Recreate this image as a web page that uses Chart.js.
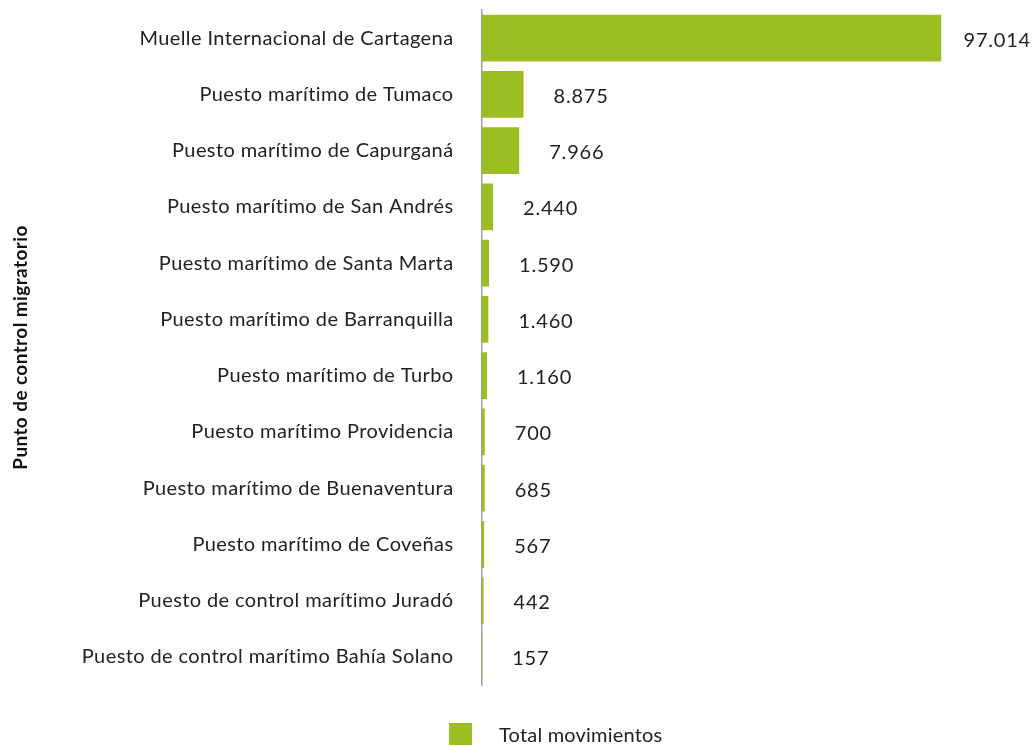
<!DOCTYPE html>
<html>
<head>
<meta charset="utf-8">
<script src="https://cdn.jsdelivr.net/npm/chart.js@4.4.0/dist/chart.umd.min.js"></script>
<style>
  body { margin: 0; background: #fff; }
  .wrap { position: relative; width: 1034px; height: 746px; }
  .legend { position: absolute; left: 449px; top: 722px; display: flex; align-items: center;
    font-family: Lato, sans-serif; font-size: 20px; letter-spacing: 0.2px; color: #222; }
  .legend span.box { display: inline-block; width: 23px; height: 22px; background: #9BBE22; margin-right: 27px; }
</style>
</head>
<body>
<div class="wrap">
  <canvas id="myChart" width="1034" height="746"></canvas>
  <div class="legend"><span class="box"></span><span>Total movimientos</span></div>
</div>
<script>
const categories = [
  'Muelle Internacional de Cartagena',
  'Puesto marítimo de Tumaco',
  'Puesto marítimo de Capurganá',
  'Puesto marítimo de San Andrés',
  'Puesto marítimo de Santa Marta',
  'Puesto marítimo de Barranquilla',
  'Puesto marítimo de Turbo',
  'Puesto marítimo Providencia',
  'Puesto marítimo de Buenaventura',
  'Puesto marítimo de Coveñas',
  'Puesto de control marítimo Juradó',
  'Puesto de control marítimo Bahía Solano'
];
const totalMovimientos = [97014, 8875, 7966, 2440, 1590, 1460, 1160, 700, 685, 567, 442, 157];

const fmt = (v) => String(v).replace(/\B(?=(\d{3})+(?!\d))/g, '.');

// the reference font is wider than Lato, so open it up a bit
const spacing = {
  id: 'spacing',
  beforeLayout(chart) { chart.ctx.letterSpacing = '0.4px'; },
  beforeDraw(chart) { chart.ctx.letterSpacing = '0.4px'; }
};

// value labels to the right of each bar
const valueLabels = {
  id: 'valueLabels',
  afterDatasetsDraw(chart) {
    const ctx = chart.ctx;
    const meta = chart.getDatasetMeta(0);
    ctx.save();
    ctx.font = '20px Lato, sans-serif';
    ctx.letterSpacing = '0.8px';
    ctx.fillStyle = '#222';
    ctx.textBaseline = 'middle';
    ctx.textAlign = 'left';
    meta.data.forEach((bar, i) => {
      const txt = fmt(totalMovimientos[i]);
      const w = ctx.measureText(txt).width;
      let x = bar.x + 30;
      if (x + w > chart.width - 3) x = chart.width - 3 - w;
      ctx.fillText(txt, x, bar.y + 2);
    });
    ctx.restore();
  }
};

new Chart(document.getElementById('myChart'), {
  type: 'bar',
  data: {
    labels: categories,
    datasets: [{
      label: 'Total movimientos',
      data: totalMovimientos,
      backgroundColor: '#9BBE22',
      categoryPercentage: 1,
      barPercentage: 0.835
    }]
  },
  plugins: [spacing, valueLabels],
  options: {
    indexAxis: 'y',
    responsive: false,
    animation: false,
    layout: { padding: { top: 10, bottom: 61, left: 9, right: 0 } },
    plugins: {
      legend: { display: false },
      tooltip: { enabled: false }
    },
    scales: {
      x: { display: false, min: 0, max: 116600 },
      y: {
        grid: { display: false, drawTicks: false },
        border: { display: true, color: '#a0a0a0', width: 1.5 },
        ticks: { color: '#222', font: { family: 'Lato', size: 20 }, padding: 28 },
        title: {
          display: true,
          text: 'Punto de control migratorio',
          color: '#111',
          font: { family: 'Lato', size: 19, weight: 'bold' },
          padding: { top: 0, bottom: 22 }
        },
        afterFit(scale) {
          // tick padding also pads the axis ends; drop that
          scale.paddingTop = 0;
          scale.paddingBottom = 0;
        }
      }
    }
  }
});
</script>
</body>
</html>
